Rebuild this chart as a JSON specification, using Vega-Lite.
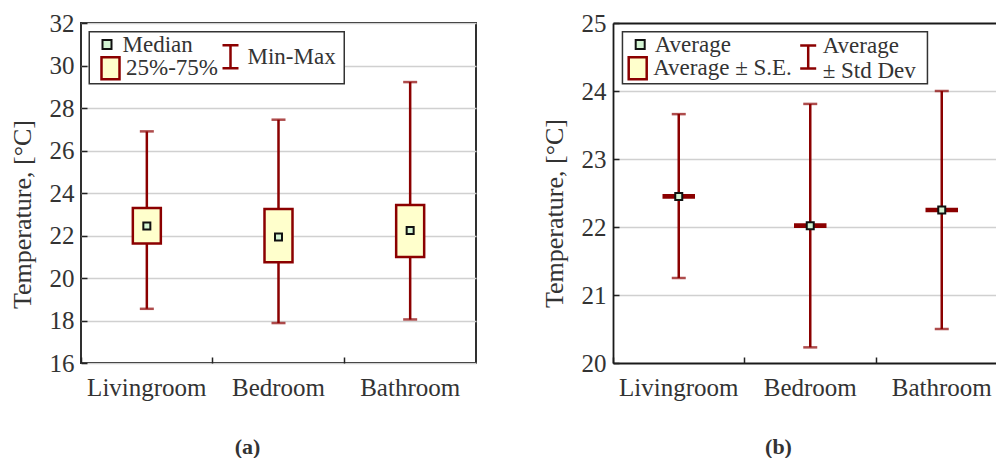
{
  "$schema": "https://vega.github.io/schema/vega-lite/v6.json",
  "padding": {"left": 8, "top": 10, "right": 0, "bottom": 0},
  "background": "white",
  "config": {
    "font": "Liberation Serif",
    "axis": {
      "labelFont": "Liberation Serif", "titleFont": "Liberation Serif",
      "labelFontSize": 25, "titleFontSize": 26, "titleFontWeight": "normal",
      "labelColor": "#333", "titleColor": "#333",
      "domain": false, "tickColor": "#222", "tickWidth": 1.5, "tickSize": -6
    },
    "legend": {
      "labelFont": "Liberation Serif", "titleFont": "Liberation Serif",
      "labelFontSize": 23, "labelColor": "#333", "orient": "none", "padding": 0, "title": null
    },
    "view": {"stroke": "#1a1a1a", "strokeWidth": 1.8}
  },
  "datasets": {
    "boxes": [
      {"room": "Livingroom", "min": 18.55, "q1": 21.62, "median": 22.45, "q3": 23.29, "max": 26.9},
      {"room": "Bedroom", "min": 17.88, "q1": 20.74, "median": 21.93, "q3": 23.25, "max": 27.45},
      {"room": "Bathroom", "min": 18.05, "q1": 20.99, "median": 22.24, "q3": 23.44, "max": 29.22}
    ],
    "means": [
      {"room": "Livingroom", "avg": 22.45, "se_lo": 22.434, "se_hi": 22.466, "sd_lo": 21.25, "sd_hi": 23.66},
      {"room": "Bedroom", "avg": 22.02, "se_lo": 22.004, "se_hi": 22.036, "sd_lo": 20.23, "sd_hi": 23.81},
      {"room": "Bathroom", "avg": 22.25, "se_lo": 22.234, "se_hi": 22.266, "sd_lo": 20.5, "sd_hi": 24.0}
    ]
  },
  "spacing": 63,
  "resolve": {"scale": {"color": "independent", "fill": "independent", "stroke": "independent", "strokeDash": "independent"}},
  "hconcat": [
    {
      "width": 395, "height": 340,
      "data": {"name": "boxes"},
      "encoding": {
        "x": {
          "field": "room", "type": "nominal", "sort": null,
          "scale": {"paddingInner": 0, "paddingOuter": 0},
          "axis": {"title": "(a)", "labelAngle": 0, "bandPosition": 0, "tickExtra": false, "labelPadding": 18, "titleFontWeight": "bold", "titleFontSize": 22, "titleX": 166, "titlePadding": 36, "grid": false}
        }
      },
      "layer": [
        {
          "mark": {"type": "rule", "color": "#8b0000", "strokeWidth": 2.5},
          "encoding": {
            "y": {"field": "min", "type": "quantitative", "title": "Temperature, [°C]",
              "scale": {"domain": [16, 32], "nice": false, "zero": false},
              "axis": {"values": [16, 18, 20, 22, 24, 26, 28, 30, 32], "format": "d", "grid": true, "gridColor": "#d0d0d0", "gridWidth": 1.5, "labelPadding": 13, "titleY": 191, "titlePadding": 14}},
            "y2": {"field": "max"},
            "strokeDash": {"datum": "Min-Max", "type": "nominal",
              "scale": {"domain": ["Min-Max"], "range": [[1, 0]]},
              "legend": {"legendX": 138, "legendY": 22.25, "zindex": 2, "labelOffset": 5.5,
                "symbolSize": 400, "symbolType": "M-0.8,-1.15H0.8M0,-1.15V1.15M-0.8,1.15H0.8",
                "symbolStrokeColor": "#8b0000", "symbolStrokeWidth": 2.5, "symbolFillColor": "transparent"}}
          }
        },
        {
          "mark": {"type": "tick", "color": "#8b0000", "thickness": 2.5, "size": 14},
          "encoding": {"y": {"field": "min", "type": "quantitative", "title": "Temperature, [°C]"}}
        },
        {
          "mark": {"type": "tick", "color": "#8b0000", "thickness": 2.5, "size": 14},
          "encoding": {"y": {"field": "max", "type": "quantitative", "title": "Temperature, [°C]"}}
        },
        {
          "mark": {"type": "bar", "width": 28, "stroke": "#8b0000", "strokeWidth": 2.5},
          "encoding": {
            "y": {"field": "q1", "type": "quantitative", "title": "Temperature, [°C]"},
            "y2": {"field": "q3"},
            "color": {"datum": "25%-75%", "type": "nominal",
              "scale": {"domain": ["25%-75%"], "range": ["#ffffcc"]},
              "legend": {"legendX": 18, "legendY": 33.75, "zindex": 2, "labelOffset": 4,
                "symbolSize": 400, "symbolType": "M-0.9,-1.1H0.9V1.1H-0.9Z",
                "symbolStrokeColor": "#8b0000", "symbolStrokeWidth": 2.5}}
          }
        },
        {
          "mark": {"type": "point", "shape": "square", "filled": true, "size": 49, "fill": "#d4f5d4", "strokeWidth": 2, "opacity": 1},
          "encoding": {
            "y": {"field": "median", "type": "quantitative", "title": "Temperature, [°C]"},
            "stroke": {"datum": "Median", "type": "nominal",
              "scale": {"domain": ["Median"], "range": ["#111111"]},
              "legend": {"legendX": 14.5, "legendY": 10, "zindex": 2, "labelOffset": 4,
                "symbolType": "square", "symbolSize": 81, "symbolStrokeWidth": 2, "symbolFillColor": "#d4f5d4"}}
          }
        },
        {
          "mark": {"type": "text", "text": " ", "stroke": "#333", "strokeWidth": 1.5},
          "encoding": {
            "fill": {"datum": "frame", "type": "nominal",
              "scale": {"domain": ["frame"], "range": ["white"]},
              "legend": {"legendX": 124.25, "legendY": 23.25, "zindex": 1, "labelExpr": "''",
                "symbolSize": 400, "symbolType": "M-12.75,-2.6H12.75V2.6H-12.75Z",
                "symbolStrokeColor": "#333", "symbolStrokeWidth": 1.5}}
          }
        }
      ]
    },
    {
      "width": 384, "height": 340,
      "view": {"stroke": "transparent"},
      "data": {"name": "means"},
      "encoding": {
        "x": {
          "field": "room", "type": "nominal", "sort": null,
          "scale": {"paddingInner": 0, "paddingOuter": 0, "range": [0, 394.5]},
          "axis": {"title": "(b)", "labelAngle": 0, "bandPosition": 0, "tickExtra": false, "labelPadding": 18, "titleFontWeight": "bold", "titleFontSize": 22, "titleX": 165, "titlePadding": 36, "grid": false, "domain": false}
        }
      },
      "layer": [
        {
          "mark": {"type": "rule", "color": "#8b0000", "strokeWidth": 2.5},
          "encoding": {
            "y": {"field": "sd_lo", "type": "quantitative", "title": "Temperature, [°C]",
              "scale": {"domain": [20, 25], "nice": false, "zero": false},
              "axis": {"values": [20, 21, 22, 23, 24, 25], "format": "d", "grid": true,
                "gridColor": {"condition": {"test": "datum.value === 25 || datum.value === 20", "value": "#1a1a1a"}, "value": "#d0d0d0"},
                "gridWidth": {"condition": {"test": "datum.value === 25 || datum.value === 20", "value": 1.8}, "value": 1.5},
                "domain": true, "domainColor": "#1a1a1a", "domainWidth": 1.8,
                "labelPadding": 13, "titleY": 190, "titlePadding": 14}},
            "y2": {"field": "sd_hi"},
            "strokeDash": {"datum": "SD", "type": "nominal",
              "scale": {"domain": ["SD"], "range": [[1, 0]]},
              "legend": {"legendX": 183.7, "legendY": 11, "zindex": 2, "labelOffset": 3,
                "labelExpr": "['Average', '± Std Dev']",
                "symbolSize": 400, "symbolType": "M-0.8,0H0.8M0,0V2.3M-0.8,2.3H0.8",
                "symbolStrokeColor": "#8b0000", "symbolStrokeWidth": 2.5, "symbolFillColor": "transparent"}}
          }
        },
        {
          "mark": {"type": "tick", "color": "#8b0000", "thickness": 2.5, "size": 14},
          "encoding": {"y": {"field": "sd_lo", "type": "quantitative", "title": "Temperature, [°C]"}}
        },
        {
          "mark": {"type": "tick", "color": "#8b0000", "thickness": 2.5, "size": 14},
          "encoding": {"y": {"field": "sd_hi", "type": "quantitative", "title": "Temperature, [°C]"}}
        },
        {
          "mark": {"type": "bar", "width": 30, "stroke": "#8b0000", "strokeWidth": 2.5},
          "encoding": {
            "y": {"field": "se_lo", "type": "quantitative", "title": "Temperature, [°C]"},
            "y2": {"field": "se_hi"},
            "color": {"datum": "Average ± S.E.", "type": "nominal",
              "scale": {"domain": ["Average ± S.E."], "range": ["#ffffcc"]},
              "legend": {"legendX": 13.2, "legendY": 33.75, "zindex": 2, "labelOffset": 4,
                "symbolSize": 400, "symbolType": "M-0.9,-1.1H0.9V1.1H-0.9Z",
                "symbolStrokeColor": "#8b0000", "symbolStrokeWidth": 2.5}}
          }
        },
        {
          "mark": {"type": "point", "shape": "square", "filled": true, "size": 49, "fill": "#d4f5d4", "strokeWidth": 2, "opacity": 1},
          "encoding": {
            "y": {"field": "avg", "type": "quantitative", "title": "Temperature, [°C]"},
            "stroke": {"datum": "Average", "type": "nominal",
              "scale": {"domain": ["Average"], "range": ["#111111"]},
              "legend": {"legendX": 15.7, "legendY": 10, "zindex": 2, "labelOffset": 3,
                "symbolType": "square", "symbolSize": 81, "symbolStrokeWidth": 2, "symbolFillColor": "#d4f5d4"}}
          }
        },
        {
          "mark": {"type": "text", "text": " ", "stroke": "#333", "strokeWidth": 1.5},
          "encoding": {
            "fill": {"datum": "frame", "type": "nominal",
              "scale": {"domain": ["frame"], "range": ["white"]},
              "legend": {"legendX": 150.45, "legendY": 23.25, "zindex": 1, "labelExpr": "''",
                "symbolSize": 400, "symbolType": "M-15.25,-2.6H15.25V2.6H-15.25Z",
                "symbolStrokeColor": "#333", "symbolStrokeWidth": 1.5}}
          }
        }
      ]
    }
  ]
}
